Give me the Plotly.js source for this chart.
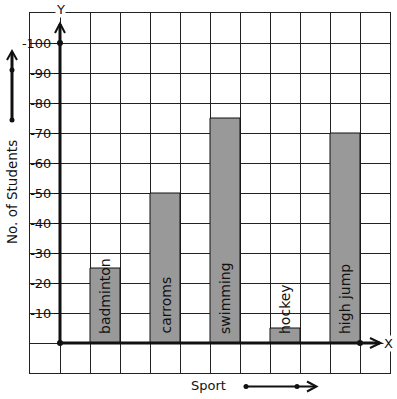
<!DOCTYPE html>
<html>
<head>
<meta charset="utf-8">
<script src="https://cdn.plot.ly/plotly-3.0.1.min.js"></script>
<style>html,body{margin:0;padding:0;background:#fff;}#chart{width:397px;height:399px;}</style>
</head>
<body>
<div id="chart"></div>
<script>
// ---- data ----
var sports = ["badminton", "carroms", "swimming", "hockey", "high jump"];
var students = [25, 50, 75, 5, 70];
var sportPos = [1.5, 3.5, 5.5, 7.5, 9.5];
var yTicks = [10, 20, 30, 40, 50, 60, 70, 80, 90, 100];
var yTickText = yTicks.map(function (v) { return "-" + v; });

var FONT = "DejaVu Sans, sans-serif";
var INK = "#111";

function px2paperX(px) { return (px - 30) / 360; }
function px2paperY(py) { return (373 - py) / 360; }

var traces = [
  {
    type: "bar",
    x: sportPos,
    y: students,
    width: 1,
    marker: { color: "#999999", line: { color: INK, width: 1 } },
    hoverinfo: "skip",
    showlegend: false
  },
  {
    type: "scatter", mode: "markers",
    x: [0, 0, 10], y: [0, 100, 0],
    marker: { color: INK, size: 6 },
    hoverinfo: "skip", showlegend: false
  },
  {
    type: "scatter", mode: "markers",
    x: [], y: [], yaxis: "y2", showlegend: false, hoverinfo: "skip"
  }
];

var annotations = sports.map(function (s, i) {
  return {
    x: sportPos[i], y: 0, xref: "x", yref: "y",
    text: s, showarrow: false, textangle: -90,
    xanchor: "center", yanchor: "bottom", yshift: 7,
    font: { family: FONT, size: 14, color: INK }
  };
});
annotations.push(
  { x: px2paperX(60), y: px2paperY(9), xref: "paper", yref: "paper", text: "Y", showarrow: false,
    xanchor: "center", yanchor: "middle", bgcolor: "#fff", borderpad: 0,
    font: { family: FONT, size: 13, color: INK } },
  { x: px2paperX(388), y: px2paperY(343), xref: "paper", yref: "paper", text: "X", showarrow: false,
    xanchor: "center", yanchor: "middle", bgcolor: "#fff", borderpad: 0,
    font: { family: FONT, size: 13, color: INK } },
  { x: px2paperX(208.5), y: px2paperY(385), xref: "paper", yref: "paper", text: "Sport", showarrow: false,
    xanchor: "center", yanchor: "middle",
    font: { family: FONT, size: 13, color: INK } },
  { x: px2paperX(12), y: px2paperY(192), xref: "paper", yref: "paper", text: "No. of Students", showarrow: false,
    textangle: -90, xanchor: "center", yanchor: "middle",
    font: { family: FONT, size: 13.5, color: INK } }
);

function pline(x0, y0, x1, y1, w) {
  return { type: "line", xref: "paper", yref: "paper",
    x0: px2paperX(x0), y0: px2paperY(y0), x1: px2paperX(x1), y1: px2paperY(y1),
    line: { color: INK, width: w } };
}
function ppath(pts, w) {
  var d = pts.map(function (p, i) { return (i ? "L" : "M") + px2paperX(p[0]) + "," + px2paperY(p[1]); }).join(" ");
  return { type: "path", xref: "paper", yref: "paper", path: d, line: { color: INK, width: w } };
}
function pdot(x, y) {
  var r = 2.5;
  return { type: "circle", xref: "paper", yref: "paper",
    x0: px2paperX(x - r), x1: px2paperX(x + r), y0: px2paperY(y + r), y1: px2paperY(y - r),
    fillcolor: INK, line: { color: INK, width: 0 } };
}

var shapes = [
  // main axes
  pline(60, 343, 60, 24, 3),
  pline(60, 343, 380, 343, 3),
  ppath([[55, 33], [60, 23.5], [65, 33]], 2),
  ppath([[370, 338], [380.5, 343], [370, 348]], 2),
  // left decorative arrow
  pline(12, 120, 12, 52, 3),
  ppath([[7, 60], [12, 51], [17, 60]], 2),
  pdot(12, 70), pdot(12, 120),
  // bottom decorative arrow
  pline(246, 386.5, 315, 386.5, 2),
  ppath([[307, 381.5], [316.5, 386.5], [307, 391.5]], 2),
  pdot(246, 386.5), pdot(297, 386.5)
];

var layout = {
  width: 397, height: 399,
  margin: { l: 30, r: 7, t: 13, b: 26, pad: 0 },
  paper_bgcolor: "#fff", plot_bgcolor: "#fff",
  showlegend: false,
  bargap: 0,
  xaxis: {
    range: [-1, 11], tick0: -1, dtick: 1, showgrid: true, gridcolor: "#222", gridwidth: 1,
    zeroline: false, showticklabels: false, ticks: "", showline: true, mirror: true,
    linecolor: "#222", linewidth: 1, fixedrange: true
  },
  yaxis: {
    range: [-10, 110], tick0: -10, dtick: 10, showgrid: true, gridcolor: "#222", gridwidth: 1,
    zeroline: false, showticklabels: false, ticks: "", showline: true, mirror: true,
    linecolor: "#222", linewidth: 1, fixedrange: true
  },
  yaxis2: {
    overlaying: "y", anchor: "free", position: 30 / 360, side: "left",
    range: [-10, 110], tickmode: "array", tickvals: yTicks, ticktext: yTickText,
    ticks: "outside", ticklen: 6, tickwidth: 1, tickcolor: INK,
    showgrid: false, zeroline: false, showline: false,
    tickfont: { family: FONT, size: 13, color: INK }, fixedrange: true
  },
  annotations: annotations,
  shapes: shapes
};

Plotly.newPlot("chart", traces, layout, { displayModeBar: false, staticPlot: true });
</script>
</body>
</html>
